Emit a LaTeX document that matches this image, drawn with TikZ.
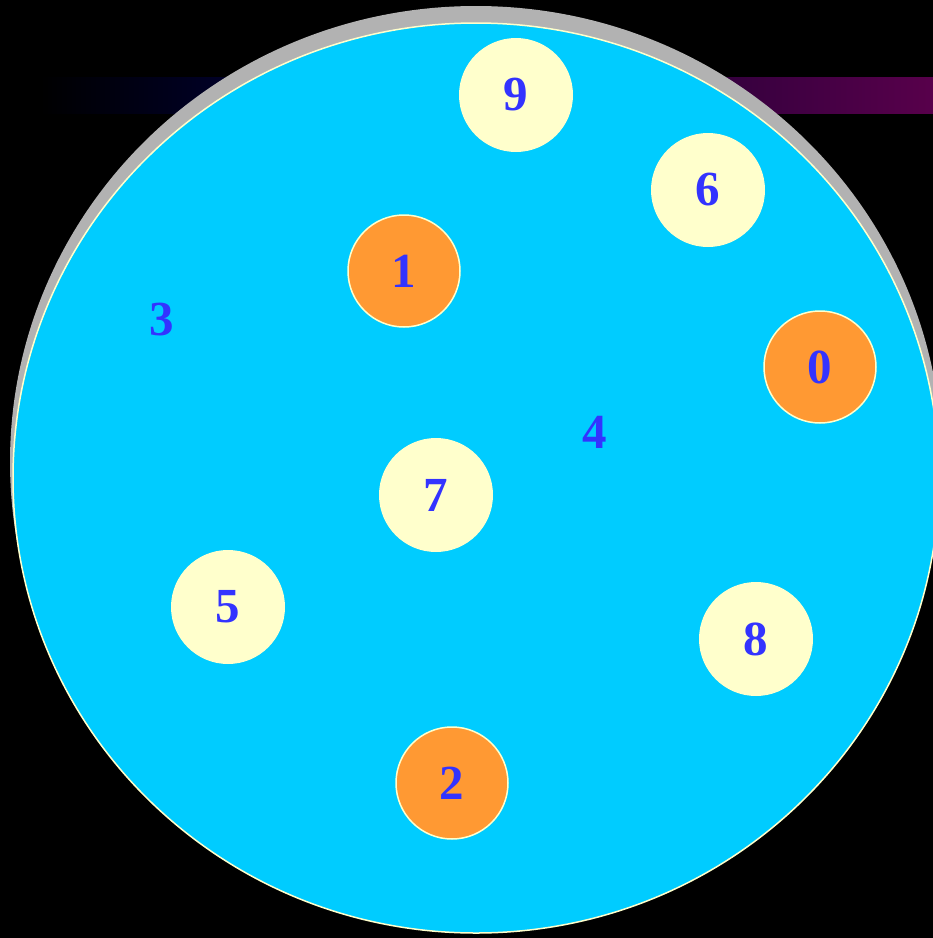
\documentclass[tikz,border=0pt]{standalone}
\usepackage{fontspec}
\setmainfont{Liberation Serif}
\definecolor{bgcyan}{HTML}{00CCFF}
\definecolor{ltyellow}{HTML}{FFFFCC}
\definecolor{orangefill}{HTML}{FF9933}
\definecolor{digitblue}{HTML}{3333FF}
\definecolor{shadowgray}{HTML}{B2B2B2}
\definecolor{barnavy}{HTML}{00002C}
\definecolor{barmid}{HTML}{0A002E}
\definecolor{barmagenta}{HTML}{58004B}
\begin{document}
\begin{tikzpicture}[x=1pt,y=-1pt,
  lbl/.style={text=digitblue, font=\fontsize{49}{49}\selectfont\bfseries, inner sep=0pt},
  ydisc/.style={lbl, circle, fill=ltyellow, minimum size=114pt},
  odisc/.style={lbl, circle, fill=orangefill, draw=ltyellow, line width=1.5pt, minimum size=112pt}]
\fill[black] (0,0) rectangle (933,938);
\useasboundingbox (0,0) rectangle (933,938);
% gradient bar behind the plate
\shade[left color=black, right color=barnavy] (40,77) rectangle (251,113);
\shade[left color=barnavy, right color=barmid] (250,77) rectangle (471,113);
\shade[left color=barmid, right color=barmagenta] (470,77) rectangle (933,113);
% shadow and plate
\fill[shadowgray] (476,462) ellipse [x radius=466, y radius=456];
\draw[fill=bgcyan, draw=ltyellow, line width=1.5pt] (476,478) ellipse [x radius=463, y radius=455];
% discs
\node[ydisc] (n9) at (516,95) {9};
\node[ydisc] (n6) at (708,190) {6};
\node[odisc] (n1) at (404,271) {1};
\node[odisc] (n0) at (820,367) {0};
\node[ydisc] (n7) at (436,495) {7};
\node[ydisc] (n5) at (228,607) {5};
\node[ydisc] (n8) at (756,639) {8};
\node[odisc] (n2) at (452,783) {2};
% free digits
\node[lbl] (n3) at (162,320) {3};
\node[lbl] (n4) at (595,432) {4};
\end{tikzpicture}
\end{document}
